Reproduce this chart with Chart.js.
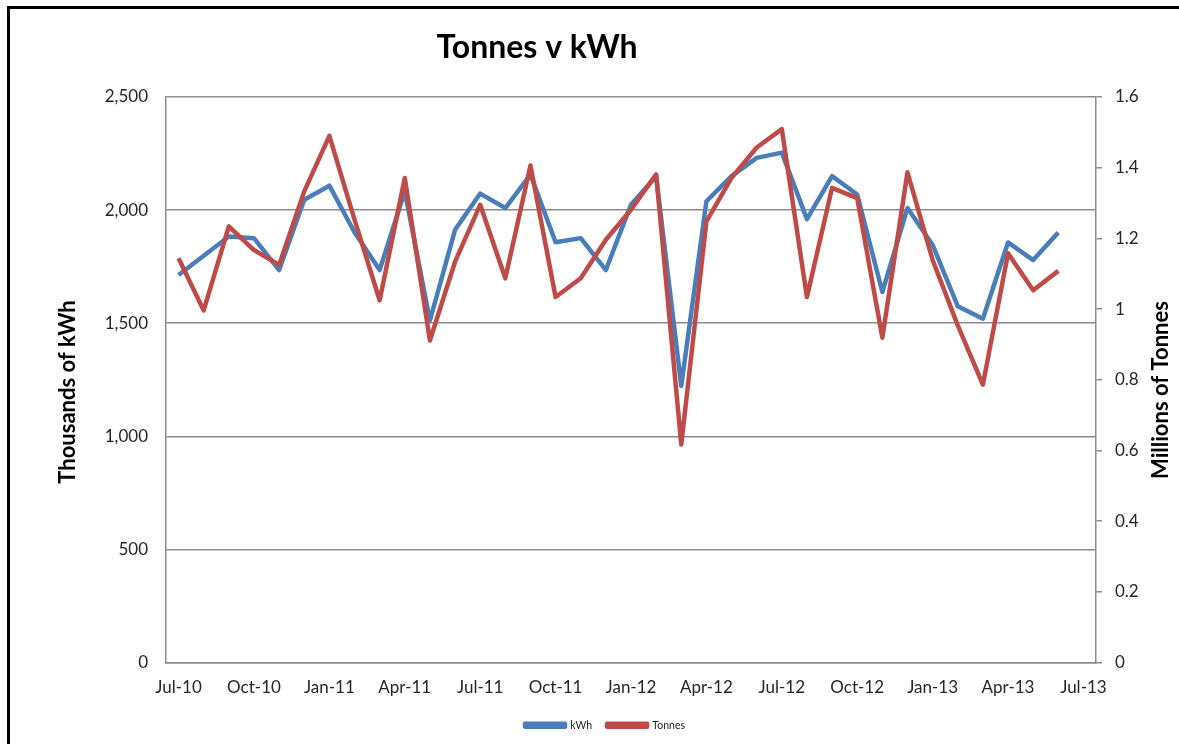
<!DOCTYPE html>
<html>
<head>
<meta charset="utf-8">
<title>Tonnes v kWh</title>
<script src="https://cdn.jsdelivr.net/npm/chart.js@4.4.1/dist/chart.umd.min.js"></script>
<style>
  html, body { margin: 0; padding: 0; background: #fff; overflow: hidden; }
  canvas { display: block; }
</style>
</head>
<body>
<canvas id="myChart" width="1179" height="744"></canvas>
<script>
// monthly categories, Jul-10 .. Jul-13 (last one has no data)
const months = [
  'Jul-10', 'Aug-10', 'Sep-10', 'Oct-10', 'Nov-10', 'Dec-10',
  'Jan-11', 'Feb-11', 'Mar-11', 'Apr-11', 'May-11', 'Jun-11',
  'Jul-11', 'Aug-11', 'Sep-11', 'Oct-11', 'Nov-11', 'Dec-11',
  'Jan-12', 'Feb-12', 'Mar-12', 'Apr-12', 'May-12', 'Jun-12',
  'Jul-12', 'Aug-12', 'Sep-12', 'Oct-12', 'Nov-12', 'Dec-12',
  'Jan-13', 'Feb-13', 'Mar-13', 'Apr-13', 'May-13', 'Jun-13',
  'Jul-13'
];
const tickMonths = ['Jul-10', 'Oct-10', 'Jan-11', 'Apr-11', 'Jul-11', 'Oct-11',
  'Jan-12', 'Apr-12', 'Jul-12', 'Oct-12', 'Jan-13', 'Apr-13', 'Jul-13'];

// thousands of kWh
const kwh = [
  1713, 1798, 1883, 1876, 1735, 2046,
  2108, 1902, 1735, 2083, 1512, 1913,
  2073, 2009, 2157, 1858, 1876, 1735,
  2024, 2150, 1223, 2039, 2150, 2231,
  2254, 1960, 2150, 2069, 1638, 2009,
  1846, 1575, 1520, 1857, 1779, 1901
];

// millions of tonnes
const tonnes = [
  1.144, 0.996, 1.234, 1.167, 1.125, 1.333,
  1.490, 1.253, 1.025, 1.371, 0.911, 1.134,
  1.295, 1.087, 1.406, 1.034, 1.087, 1.196,
  1.281, 1.381, 0.617, 1.248, 1.371, 1.457,
  1.509, 1.034, 1.343, 1.314, 0.919, 1.387,
  1.139, 0.954, 0.786, 1.158, 1.053, 1.108
];

const gridColor = '#8c8c8c';
const tickColor = '#262626';

Chart.defaults.font.family = 'Lato, "Open Sans", sans-serif';

// white background, frame, title and the two axis titles
const decorations = {
  id: 'decorations',
  beforeDraw(chart) {
    const ctx = chart.ctx;
    ctx.save();
    ctx.fillStyle = '#fff';
    ctx.fillRect(0, 0, chart.width, chart.height);
    ctx.restore();
  },
  afterDraw(chart) {
    const ctx = chart.ctx;
    ctx.save();
    // keep the right edge clean, then the frame on top and left only
    ctx.fillStyle = '#fff';
    ctx.fillRect(chart.width - 6, 0, 6, chart.height);
    ctx.fillStyle = '#000';
    ctx.fillRect(7, 6, 3, chart.height - 6);
    ctx.fillRect(7, 6, chart.width - 7, 3);

    ctx.textAlign = 'center';
    ctx.textBaseline = 'alphabetic';
    ctx.font = 'bold 32px Lato';
    ctx.fillText('Tonnes v kWh', 537, 58);

    ctx.font = 'bold 22px Lato';
    ctx.save();
    ctx.translate(75, 392);
    ctx.rotate(-Math.PI / 2);
    ctx.fillText('Thousands of kWh', 0, 0);
    ctx.restore();

    ctx.save();
    ctx.translate(1168, 390);
    ctx.rotate(-Math.PI / 2);
    ctx.fillText('Millions of Tonnes', 0, 0);
    ctx.restore();
    ctx.restore();
  }
};

const ctx = document.getElementById('myChart');

const chart = new Chart(ctx, {
  type: 'line',
  data: {
    labels: months,
    datasets: [{
      label: 'kWh',
      data: kwh,
      yAxisID: 'y',
      borderColor: '#4a7ebb',
      backgroundColor: '#4a7ebb',
      borderWidth: 4.5,
      pointRadius: 0,
      tension: 0,
      borderJoinStyle: 'round',
      order: 1
    }, {
      label: 'Tonnes',
      data: tonnes,
      yAxisID: 'y2',
      borderColor: '#be4b48',
      backgroundColor: '#be4b48',
      borderWidth: 4.5,
      pointRadius: 0,
      tension: 0,
      borderJoinStyle: 'round',
      order: 0
    }]
  },
  options: {
    responsive: false,
    animation: false,
    layout: {
      padding: { left: 31, right: 0, top: 97, bottom: 3.5 }
    },
    plugins: {
      title: { display: false },
      tooltip: { enabled: false },
      legend: {
        position: 'bottom',
        labels: {
          boxWidth: 40,
          boxHeight: 3,
          padding: 15,
          color: '#222',
          font: { size: 10.5 },
          sort: (a, b) => a.datasetIndex - b.datasetIndex
        }
      }
    },
    scales: {
      x: {
        offset: true,
        grid: { display: false },
        border: { display: true, color: gridColor, width: 1.5 },
        afterFit: (scale) => { scale.height = 42.5; },
        ticks: {
          autoSkip: false,
          maxRotation: 0,
          padding: 7,
          color: tickColor,
          font: { size: 17 },
          callback: function (value) {
            const lbl = this.getLabelForValue(value);
            return tickMonths.includes(lbl) ? lbl : '';
          }
        }
      },
      y: {
        position: 'left',
        min: 0,
        max: 2500,
        afterFit: (scale) => { scale.width = 135; },
        grid: { color: gridColor, lineWidth: 1.5, drawTicks: false },
        border: { display: true, color: gridColor, width: 1.5 },
        ticks: {
          stepSize: 500,
          padding: 18,
          color: tickColor,
          font: { size: 17 }
        }
      },
      y2: {
        position: 'right',
        min: 0,
        max: 1.6,
        afterFit: (scale) => { scale.width = 83; },
        grid: { drawOnChartArea: false, drawTicks: true, tickLength: 6, color: gridColor, lineWidth: 1.5 },
        border: { display: true, color: gridColor, width: 1.5 },
        ticks: {
          stepSize: 0.2,
          padding: 13,
          color: tickColor,
          font: { size: 17 },
          callback: (v) => String(+v.toFixed(1))
        }
      }
    }
  },
  plugins: [decorations]
});
</script>
</body>
</html>
